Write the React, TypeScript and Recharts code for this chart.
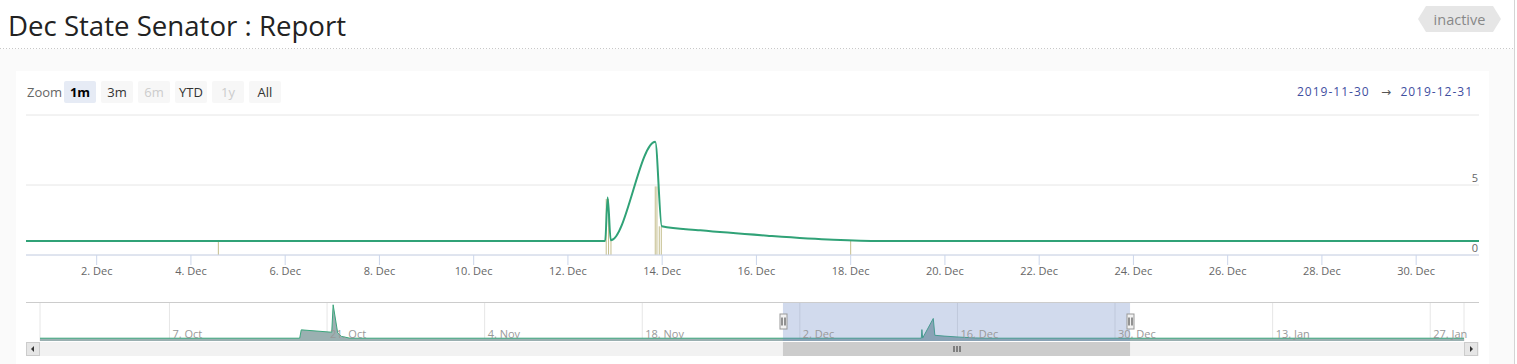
import React from 'react';
import {
  ComposedChart,
  Line,
  XAxis,
  YAxis,
  CartesianGrid,
  ReferenceLine,
  AreaChart,
  Area,
  ReferenceArea,
} from 'recharts';

// ---------------- data ----------------
const seriesTimes = [
  '2019-09-25T12:00', '2019-10-18T13:40', '2019-10-18T17:00', '2019-10-21T10:00',
  '2019-10-21T13:00', '2019-10-21T22:40', '2019-10-22T06:45', '2019-10-23T01:00',
  '2019-12-12T18:58', '2019-12-12T20:14', '2019-12-12T21:49', '2019-12-13T20:28',
  '2019-12-13T23:48', '2019-12-14T19:25', '2019-12-16T05:31', '2019-12-17T15:10',
  '2019-12-18T15:00', '2020-01-30T00:00',
];
const seriesValues = [1, 1, 4, 3.15, 13, 2.9, 1.65, 1, 1, 4.1, 1.05, 8.09, 2.05, 1.76, 1.38, 1.09, 1, 1];

const barTimes = [
  '2019-12-04T13:58', '2019-12-12T19:30', '2019-12-12T20:41', '2019-12-12T21:55',
  '2019-12-13T20:28', '2019-12-13T21:20', '2019-12-13T22:31', '2019-12-13T23:33',
  '2019-12-18T00:00',
];
const barValues = [1, 4, 4, 1.05, 4.9, 4.9, 2.05, 2.05, 1];

const mainTickDates = [
  '2019-12-02', '2019-12-04', '2019-12-06', '2019-12-08', '2019-12-10', '2019-12-12',
  '2019-12-14', '2019-12-16', '2019-12-18', '2019-12-20', '2019-12-22', '2019-12-24',
  '2019-12-26', '2019-12-28', '2019-12-30',
];
const navTickDates = [
  '2019-10-07', '2019-10-21', '2019-11-04', '2019-11-18', '2019-12-02', '2019-12-16',
  '2019-12-30', '2020-01-13', '2020-01-27',
];
const mainRange = ['2019-11-30T12:00', '2019-12-31T08:00'];
const navRange = ['2019-09-25T12:00', '2020-01-30T00:00'];
const yTicks = [0, 5, 10];
const yDomain = [0, 10];
const navYDomain = [0, 14];
const zoomButtons = ['1m', '3m', '6m', 'YTD', '1y', 'All'];
const disabledButtons = ['6m', '1y'];
const selectedButton = '1m';
const rangeFrom = '2019-11-30';
const rangeTo = '2019-12-31';
const MONTHS = ['Jan', 'Feb', 'Mar', 'Apr', 'May', 'Jun', 'Jul', 'Aug', 'Sep', 'Oct', 'Nov', 'Dec'];

// ---------------- helpers ----------------
const ts = (s: string) => Date.parse((s.length === 10 ? s + 'T00:00' : s) + ':00Z');
const fmt = (v: number) => {
  const d = new Date(v);
  return `${d.getUTCDate()}. ${MONTHS[d.getUTCMonth()]}`;
};

const seriesData = seriesTimes.map((s, i) => ({ t: ts(s), v: seriesValues[i] }));
const bars = barTimes.map((s, i) => ({ t: ts(s), v: barValues[i] }));
const mainTicks = mainTickDates.map(ts);
const navTicks = navTickDates.map(ts);
const mainDomain = mainRange.map(ts);
const navDomain = navRange.map(ts);

const FONT = '"Open Sans", sans-serif';
const GREEN = '#30a277';

const YTick = (p: any) => {
  if (p.payload.value === 10) return <g />;
  return (
    <text x={p.x - 1} y={p.y - 3} textAnchor="end" fill="#666" fontSize={11} fontFamily={FONT}>
      {p.payload.value}
    </text>
  );
};

const NavTick = (p: any) => (
  <text x={p.x + 3} y={p.y - 3} textAnchor="start" fill="#999" fontSize={11} fontFamily={FONT}>
    {fmt(p.payload.value)}
  </text>
);

const NavSelection = (p: any) => {
  const { x, y, width, height } = p;
  const midY = y + height / 2;
  const sbY = y + height + 1;
  const handle = (cx: number, k: string) => (
    <g key={k}>
      <rect x={cx - 3.5} y={midY - 7.5} width={7} height={15} fill="#f2f2f2" stroke="#999" strokeWidth={1} />
      <line x1={cx - 1.5} x2={cx - 1.5} y1={midY - 4} y2={midY + 4} stroke="#333" strokeWidth={1} />
      <line x1={cx + 1.5} x2={cx + 1.5} y1={midY - 4} y2={midY + 4} stroke="#333" strokeWidth={1} />
    </g>
  );
  const cx = x + width / 2;
  return (
    <g>
      <rect x={x} y={y} width={width} height={height} fill="rgba(102,133,194,0.3)" />
      <rect x={x} y={sbY} width={width} height={14} fill="#cccccc" />
      {[-3, 0, 3].map((d) => (
        <line key={d} x1={cx + d + 0.5} x2={cx + d + 0.5} y1={sbY + 4} y2={sbY + 10} stroke="#333" strokeWidth={1} />
      ))}
      {handle(Math.round(x) + 0.5, 'l')}
      {handle(Math.round(x + width) + 0.5, 'r')}
    </g>
  );
};

export default function App() {
  const btnX0 = 64;
  return (
    <div style={{ position: 'absolute', left: 0, top: 0, width: 1517, height: 364, overflow: 'hidden', fontFamily: FONT }}>
      {/* page background and decorations */}
      <svg width={1517} height={364} style={{ position: 'absolute', left: 0, top: 0 }}>
        <rect x={0} y={0} width={1517} height={364} fill="#ffffff" />
        <rect x={0} y={49} width={1514} height={315} fill="#fafafa" />
        <line x1={0} x2={1514} y1={48.5} y2={48.5} stroke="#c8c8c8" strokeDasharray="1 2" />
        <line x1={1514.5} x2={1514.5} y1={0} y2={364} stroke="#d4d4d4" />
        <text x={8} y={35.5} fontSize={27.6} fill="#222" fontFamily={FONT}>Dec State Senator : Report</text>
        <polygon points="1418,19 1426,6 1493,6 1501,19 1493,32 1426,32" fill="#e6e6e6" />
        <text x={1459.5} y={24.5} fontSize={14.5} fill="#888" textAnchor="middle" fontFamily={FONT}>inactive</text>
        <rect x={16} y={71} width={1473} height={300} fill="#ffffff" />
        <text x={27} y={97} fontSize={13} fill="#666" fontFamily={FONT}>Zoom</text>
        {zoomButtons.map((b, i) => {
          const sel = b === selectedButton;
          const dis = disabledButtons.includes(b);
          const bx = btnX0 + i * 37;
          return (
            <g key={b}>
              <rect x={bx} y={81} width={32} height={22} rx={2} fill={sel ? '#e6ebf5' : '#f7f7f7'} />
              <text x={bx + 16} y={97} fontSize={13} textAnchor="middle" fontWeight={sel ? 'bold' : 'normal'}
                fill={sel ? '#000' : dis ? '#cccccc' : '#333'} fontFamily={FONT}>{b}</text>
            </g>
          );
        })}
        <text x={1297} y={96} fontSize={12} fill="#3f4f9f" letterSpacing={1} fontFamily={FONT}>{rangeFrom}</text>
        <text x={1386} y={96} fontSize={12} fill="#555" textAnchor="middle" fontFamily="DejaVu Sans">→</text>
        <text x={1473} y={96} fontSize={12} fill="#3f4f9f" letterSpacing={1} textAnchor="end" fontFamily={FONT}>{rangeTo}</text>
        {/* scrollbar track and buttons */}
        <rect x={26} y={342} width={1453} height={14} fill="#f2f2f2" />
        <rect x={26.5} y={342.5} width={13} height={13} fill="#e6e6e6" stroke="#cccccc" />
        <path d="M34,346 L31,349 L34,352 Z" fill="#333" />
        <rect x={1464.5} y={342.5} width={13} height={13} fill="#e6e6e6" stroke="#cccccc" />
        <path d="M1470,346 L1473,349 L1470,352 Z" fill="#333" />
      </svg>

      {/* main chart */}
      <div style={{ position: 'absolute', left: 0, top: 0 }}>
        <ComposedChart width={1517} height={290} data={seriesData} margin={{ top: 115, left: 26, right: 37, bottom: 5 }}>
          <CartesianGrid vertical={false} stroke="#e6e6e6" />
          <XAxis
            dataKey="t"
            type="number"
            domain={mainDomain}
            allowDataOverflow
            ticks={mainTicks}
            interval={0}
            tickFormatter={fmt}
            tickSize={10}
            tickMargin={2}
            height={30}
            axisLine={{ stroke: '#ccd6eb' }}
            tickLine={{ stroke: '#ccd6eb' }}
            tick={{ fill: '#666', fontSize: 11, fontFamily: FONT }}
          />
          <YAxis
            orientation="right"
            domain={yDomain}
            ticks={yTicks}
            interval={0}
            width={1}
            axisLine={false}
            tickLine={false}
            tickSize={0}
            tickMargin={0}
            tick={YTick}
            allowDataOverflow
          />
          {bars.map((b) => (
            <ReferenceLine
              key={b.t}
              segment={[{ x: b.t, y: 0 }, { x: b.t, y: b.v }]}
              stroke="#c4bd8c"
              strokeWidth={1}
            />
          ))}
          <Line
            dataKey="v"
            type="monotone"
            stroke={GREEN}
            strokeWidth={2}
            dot={false}
            activeDot={false}
            isAnimationActive={false}
          />
        </ComposedChart>
      </div>

      {/* navigator */}
      <div style={{ position: 'absolute', left: 0, top: 0 }}>
        <AreaChart width={1517} height={364} data={seriesData} margin={{ top: 302, left: 40, right: 53, bottom: 22 }}>
          <CartesianGrid horizontal={false} stroke="#e6e6e6" />
          <XAxis
            dataKey="t"
            type="number"
            domain={navDomain}
            allowDataOverflow
            ticks={navTicks}
            interval={0}
            height={1}
            axisLine={false}
            tickLine={false}
            tickSize={0}
            tickMargin={0}
            tick={NavTick}
          />
          <YAxis hide domain={navYDomain} allowDataOverflow />
          <Area
            type="linear"
            dataKey="v"
            stroke="#3aa67c"
            strokeWidth={1}
            fill="#9ab0b1"
            fillOpacity={1}
            dot={false}
            activeDot={false}
            isAnimationActive={false}
          />
          <ReferenceArea x1={mainDomain[0]} x2={mainDomain[1]} ifOverflow="visible" shape={NavSelection} />
        </AreaChart>
      </div>

      {/* navigator outline */}
      <svg width={1517} height={364} style={{ position: 'absolute', left: 0, top: 0, pointerEvents: 'none' }}>
        <line x1={26} x2={1479} y1={302.5} y2={302.5} stroke="#cccccc" />
      </svg>
    </div>
  );
}
